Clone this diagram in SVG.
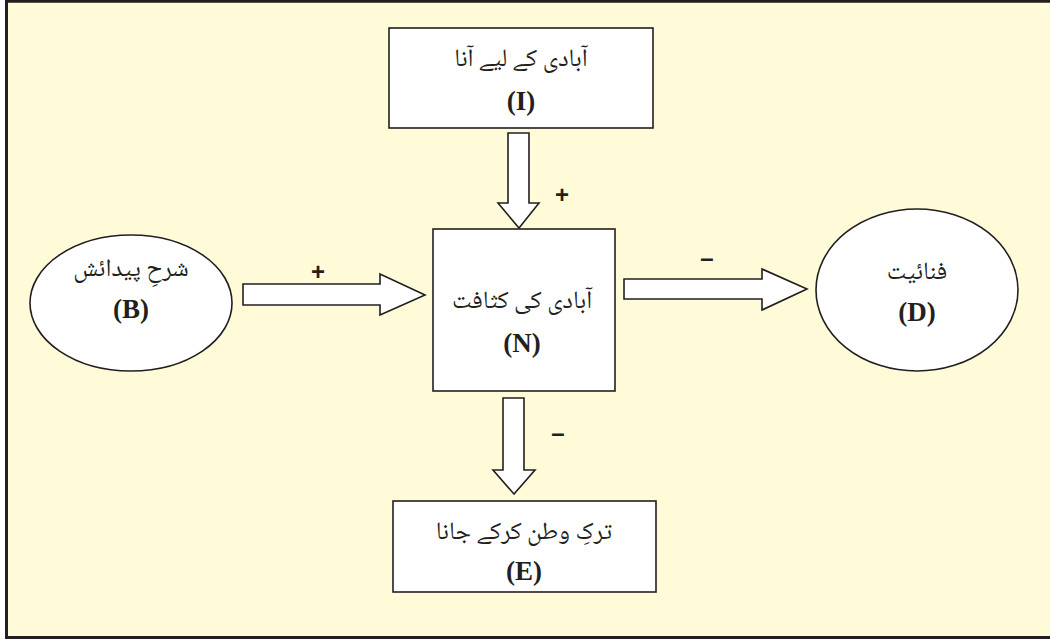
<svg xmlns="http://www.w3.org/2000/svg" width="1050" height="639" viewBox="0 0 1050 639">
<style>
.box{fill:#ffffff;stroke:#231f20;stroke-width:1.6}
.arr{fill:#ffffff;stroke:#231f20;stroke-width:1.6;stroke-linejoin:miter}
.ur{font-family:"Noto Naskh Arabic","Noto Sans Arabic","DejaVu Sans",sans-serif;font-size:25px;fill:#231f20;text-anchor:middle}
.lt{font-family:"Liberation Serif","Times New Roman",serif;font-weight:bold;font-size:27px;fill:#231f20;text-anchor:middle}
.sg{font-family:"Liberation Sans",Arial,sans-serif;font-weight:bold;font-size:24px;fill:#231f20;text-anchor:middle}
</style>
<rect x="0" y="0" width="1050" height="639" fill="#ffffff"/>
<rect x="6" y="0" width="1044" height="639" fill="#fffad7"/>
<path d="M6.5 639 V1.3 H1050" fill="none" stroke="#231f20" stroke-width="3"/>
<line x1="5" y1="637.5" x2="1050" y2="637.5" stroke="#231f20" stroke-width="3"/>

<g id="connectors">
<polygon class="arr" points="508,133 529,133 529,203 539,203 519,228 498,203 508,203"/>
<polygon class="arr" points="243,284 380,284 380,274 425,295 380,315 380,305 243,305"/>
<polygon class="arr" points="624,279 762,279 762,269 807,289 762,310 762,299 624,299"/>
<polygon class="arr" points="503,398 524,398 524,470 535,470 514,494 493,470 503,470"/>
<text class="sg" x="562" y="203">+</text>
<text class="sg" x="318" y="280">+</text>
<text class="sg" x="707" y="266" font-weight="normal">–</text>
<text class="sg" x="558" y="441" font-weight="normal">–</text>
</g>

<g id="node-I">
<rect class="box" x="389" y="28" width="264" height="100"/>
<text class="ur" x="521" y="66" direction="rtl">آبادی کے لیے آنا</text>
<text class="lt" x="521" y="110">(I)</text>
</g>

<g id="node-N">
<rect class="box" x="433" y="229" width="182" height="162"/>
<text class="ur" x="522" y="308" font-size="28" direction="rtl">آبادی کی کثافت</text>
<text class="lt" x="522" y="352" font-size="32">(N)</text>
</g>

<g id="node-B">
<ellipse class="box" cx="131" cy="303" rx="101" ry="68"/>
<text class="ur" x="131" y="276" direction="rtl">شرحِ پیدائش</text>
<text class="lt" x="131" y="318">(B)</text>
</g>

<g id="node-D">
<ellipse class="box" cx="917" cy="290" rx="101" ry="81"/>
<text class="ur" x="917" y="279" direction="rtl">فنائیت</text>
<text class="lt" x="917" y="321">(D)</text>
</g>

<g id="node-E">
<rect class="box" x="393" y="501" width="263" height="91"/>
<text class="ur" x="524" y="539" font-size="24" direction="rtl">ترکِ وطن کرکے جانا</text>
<text class="lt" x="524" y="580">(E)</text>
</g>
</svg>
